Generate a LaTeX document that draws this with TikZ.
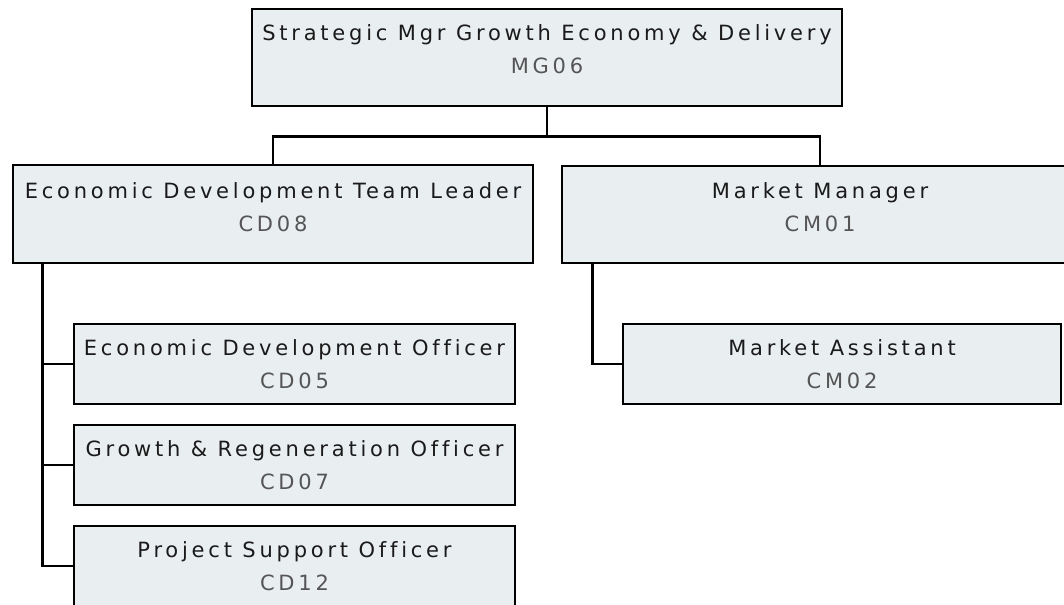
\documentclass[tikz,border=0pt]{standalone}
\usepackage{fontspec}
\newfontfamily\orgfont[LetterSpace=18,Ligatures=NoCommon]{DejaVu Sans}
\definecolor{boxfill}{RGB}{233,238,241}
\definecolor{codegray}{RGB}{85,85,85}
\definecolor{titleblack}{RGB}{26,26,26}
\newcommand\postcode[1]{\textcolor{codegray}{#1}}
\newcommand\lift[1]{\rule[-#1]{0pt}{#1}}
\begin{document}
\begin{tikzpicture}[x=0.75pt,y=-0.75pt,
    post/.style={draw=black,line width=1.9pt,fill=boxfill,rectangle,inner sep=0pt,
      align=center,font=\orgfont\fontsize{15.75}{24.75}\selectfont,text=titleblack},
    link/.style={draw=black,line width=1.9pt}]
  \useasboundingbox (0,0) rectangle (1064,604);
  \clip (0,0) rectangle (1064,604);
  % posts
  \node[post,minimum width=442.5pt,minimum height=72.75pt] (mg06) at (547,57.5)
    {Strategic Mgr Growth Economy \& Delivery\\\postcode{MG06}\lift{12pt}};
  \node[post,minimum width=390pt,minimum height=73.5pt] (cd08) at (273,214)
    {Economic Development Team Leader\\\postcode{CD08}\lift{10.5pt}};
  \node[post,minimum width=387pt,minimum height=72.75pt] (cm01) at (820,214.5)
    {Market Manager\\\postcode{CM01}\lift{10.5pt}};
  \node[post,minimum width=330.75pt,minimum height=60pt] (cd05) at (294.5,364)
    {Economic Development Officer\\\postcode{CD05}};
  \node[post,minimum width=330.75pt,minimum height=60pt] (cd07) at (294.5,465)
    {Growth \& Regeneration Officer\\\postcode{CD07}};
  \node[post,minimum width=330.75pt,minimum height=60pt] (cd12) at (294.5,566)
    {Project Support Officer\\\postcode{CD12}};
  \node[post,minimum width=328.5pt,minimum height=60pt] (cm02) at (842,364)
    {Market Assistant\\\postcode{CM02}};
  % connectors
  \draw[link] (mg06.south) -- ++(0,29) coordinate (bus);
  \draw[link] (cd08.north) |- (bus) -| (cm01.north);
  \path (cd08.south west) ++(31,0) coordinate (ltrunk);
  \draw[link] (ltrunk) |- (cd12.west);
  \draw[link] (cd05.west) -- (cd05.west -| ltrunk);
  \draw[link] (cd07.west) -- (cd07.west -| ltrunk);
  \path (cm01.south west) ++(32,0) coordinate (rtrunk);
  \draw[link] (rtrunk) |- (cm02.west);
\end{tikzpicture}
\end{document}
